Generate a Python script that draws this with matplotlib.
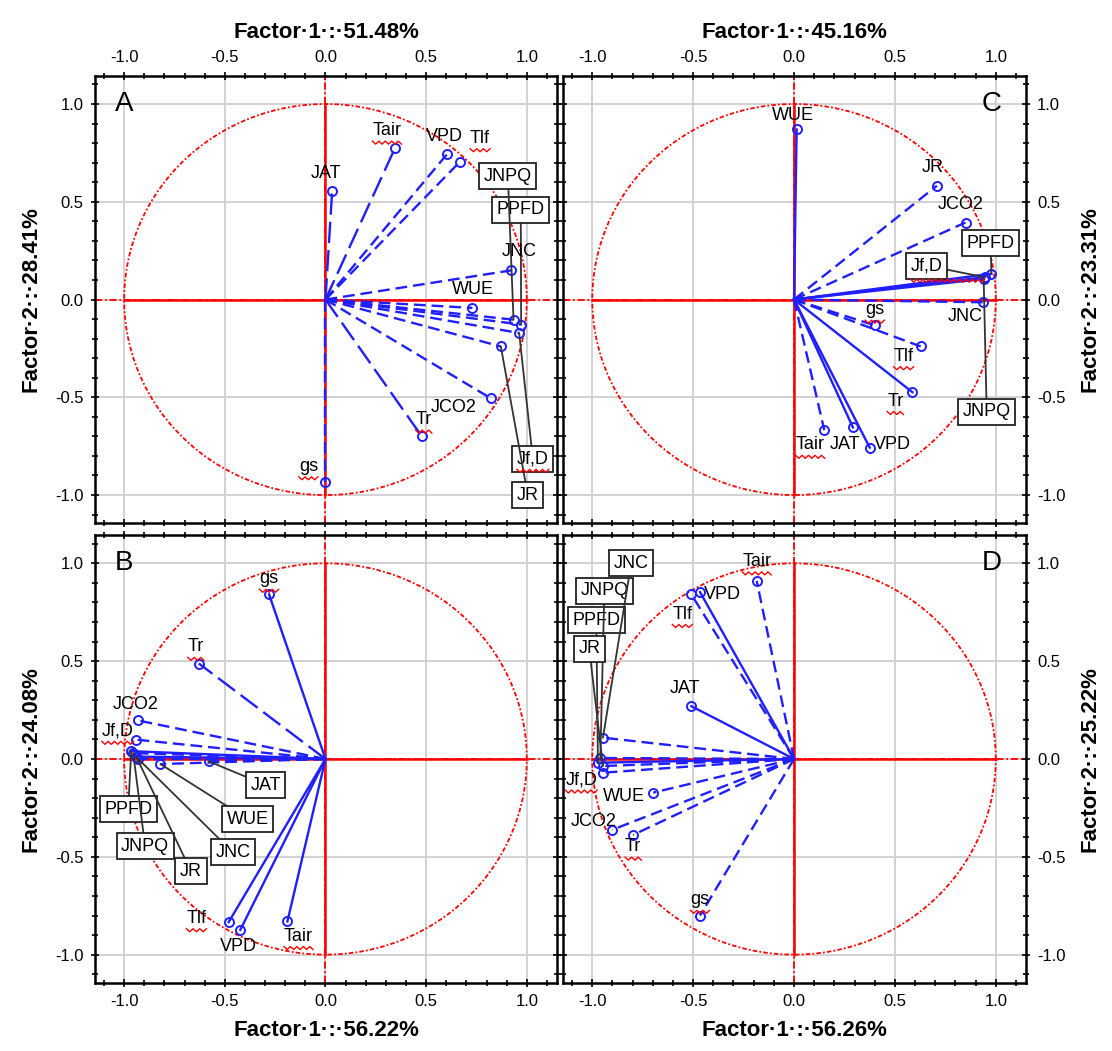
import matplotlib
matplotlib.use('Agg')
import numpy as np
import matplotlib.pyplot as plt
from matplotlib.ticker import MultipleLocator

plt.rcParams['font.family'] = ['Liberation Sans', 'DejaVu Sans']
plt.rcParams['axes.unicode_minus'] = False

# variables (same order in every panel)
variables = ['PPFD', 'Tair', 'Tlf', 'VPD', 'gs', 'Tr', 'JCO2', 'Jf,D', 'JNPQ', 'JNC', 'JR', 'JAT', 'WUE']

# loadings: factor 1 / factor 2
a_f1 = [0.972, 0.345, 0.668, 0.605, 0.000, 0.478, 0.821, 0.962, 0.934, 0.922, 0.871, 0.033, 0.730]
a_f2 = [-0.128, 0.774, 0.705, 0.745, -0.933, -0.699, -0.505, -0.171, -0.103, 0.149, -0.240, 0.553, -0.043]

b_f1 = [-0.965, -0.189, -0.481, -0.423, -0.280, -0.629, -0.931, -0.942, -0.955, -0.930, -0.940, -0.580, -0.820]
b_f2 = [0.040, -0.830, -0.834, -0.873, 0.841, 0.488, 0.197, 0.099, 0.030, 0.000, 0.012, -0.012, -0.026]

c_f1 = [0.978, 0.150, 0.628, 0.375, 0.400, 0.587, 0.850, 0.945, 0.940, 0.935, 0.708, 0.292, 0.013]
c_f2 = [0.132, -0.668, -0.240, -0.757, -0.132, -0.474, 0.394, 0.114, 0.105, -0.014, 0.582, -0.654, 0.870]

d_f1 = [-0.972, -0.185, -0.509, -0.466, -0.466, -0.797, -0.901, -0.945, -0.960, -0.947, -0.947, -0.509, -0.698]
d_f2 = [-0.019, 0.910, 0.841, 0.853, -0.800, -0.388, -0.362, -0.070, 0.005, 0.109, -0.036, 0.270, -0.172]

x_titles = {'A': 'Factor·1·:·51.48%', 'C': 'Factor·1·:·45.16%',
            'B': 'Factor·1·:·56.22%', 'D': 'Factor·1·:·56.26%'}
y_titles = {'A': 'Factor·2·:·28.41%', 'C': 'Factor·2·:·23.31%',
            'B': 'Factor·2·:·24.08%', 'D': 'Factor·2·:·25.22%'}

# words that carry the red spell-check squiggle in the original
squiggled = ['Tair', 'Tlf', 'Tr', 'gs', 'Jf,D']

# line style for each vector: s = solid, d = dashed, l = long dash
styles = {
    'A': 'd l d d d l d d d d d l d'.split(),
    'B': 's s s s s l d d d d s d d'.split(),
    'C': 's d d s d s d s s d d s s'.split(),
    'D': 's d d s d d d d d d d s d'.split(),
}
# label placement: offset from point (plain labels) or box position (boxed labels)
plain = {
    'A': {'Tair': (-0.04, 0.09), 'VPD': (-0.015, 0.09), 'Tlf': (0.10, 0.12), 'JAT': (-0.03, 0.09),
          'JNC': (0.04, 0.095), 'WUE': (0.0, 0.095), 'JCO2': (-0.185, -0.045), 'Tr': (0.01, 0.085),
          'gs': (-0.085, 0.08)},
    'B': {'gs': (0.0, 0.08), 'Tr': (-0.015, 0.085), 'JCO2': (-0.01, 0.08), 'Jf,D': (-0.09, 0.045),
          'Tlf': (-0.16, 0.02), 'VPD': (-0.01, -0.085), 'Tair': (0.055, -0.075)},
    'C': {'WUE': (-0.02, 0.07), 'JR': (-0.02, 0.095), 'JCO2': (-0.025, 0.09), 'JNC': (-0.085, -0.075),
          'gs': (0.0, 0.08), 'Tlf': (-0.085, -0.05), 'Tr': (-0.085, -0.045), 'Tair': (-0.07, -0.075),
          'JAT': (-0.04, -0.09), 'VPD': (0.115, 0.015)},
    'D': {'Tair': (0.0, 0.1), 'VPD': (0.11, -0.01), 'Tlf': (-0.045, -0.10), 'JAT': (-0.03, 0.09),
          'Jf,D': (-0.11, -0.035), 'WUE': (-0.145, -0.02), 'JCO2': (-0.09, 0.045), 'Tr': (0.0, -0.06),
          'gs': (0.0, 0.08)},
}
boxed = {
    'A': {'JNPQ': (0.906, 0.631), 'PPFD': (0.97, 0.46), 'Jf,D': (1.03, -0.815), 'JR': (1.005, -1.0)},
    'B': {'PPFD': (-0.98, -0.256), 'JNPQ': (-0.896, -0.446), 'JR': (-0.668, -0.574),
          'JNC': (-0.46, -0.477), 'WUE': (-0.386, -0.308), 'JAT': (-0.297, -0.133)},
    'C': {'PPFD': (0.975, 0.287), 'Jf,D': (0.657, 0.174), 'JNPQ': (0.955, -0.574)},
    'D': {'JNC': (-0.807, 1.0), 'JNPQ': (-0.94, 0.86), 'PPFD': (-0.98, 0.708), 'JR': (-1.015, 0.564)},
}
dash = {'s': '-', 'd': (0, (5, 2.5)), 'l': (0, (9, 3))}

fig = plt.figure(figsize=(11.12, 10.51), dpi=100)
rects = {'A': [0.0854, 0.502, 0.4155, 0.426], 'C': [0.5063, 0.502, 0.4164, 0.426],
         'B': [0.0854, 0.0647, 0.4155, 0.4263], 'D': [0.5063, 0.0647, 0.4164, 0.4263]}
data = {'A': (a_f1, a_f2), 'B': (b_f1, b_f2), 'C': (c_f1, c_f2), 'D': (d_f1, d_f2)}
blue = '#1f1fff'
to_squiggle = []

for key in ['A', 'C', 'B', 'D']:
    ax = fig.add_axes(rects[key])
    f1, f2 = data[key]
    ax.set_xlim(-1.145, 1.15)
    ax.set_ylim(-1.145, 1.145)
    ax.set_xticks([-1, -0.5, 0, 0.5, 1])
    ax.set_yticks([-1, -0.5, 0, 0.5, 1])
    ax.xaxis.set_minor_locator(MultipleLocator(0.1))
    ax.yaxis.set_minor_locator(MultipleLocator(0.1))
    ax.set_xticklabels(['-1.0', '-0.5', '0.0', '0.5', '1.0'])
    ax.set_yticklabels(['-1.0', '-0.5', '0.0', '0.5', '1.0'])
    top = key in 'AC'
    left = key in 'AB'
    ax.tick_params(which='both', direction='inout', top=True, bottom=True, left=True, right=True,
                   labeltop=top, labelbottom=not top, labelleft=left, labelright=not left,
                   labelsize=12, width=1.2)
    ax.tick_params(which='major', length=6, pad=5)
    ax.tick_params(which='minor', length=4)
    for sp in ax.spines.values():
        sp.set_linewidth(1.8)
    ax.grid(True, which='major', color='#cfcfcf', lw=1.3, zorder=0)

    # unit circle and red axes
    t = np.linspace(0, 2 * np.pi, 400)
    ax.plot(np.cos(t), np.sin(t), color='red', lw=1.3, ls=(0, (2.5, 1.2, 1, 1.2)), zorder=2)
    ax.axhline(0, color='red', lw=1.3, ls=(0, (4, 1.5, 1, 1.5)), zorder=2)
    ax.axvline(0, color='red', lw=1.3, ls=(0, (4, 1.5, 1, 1.5)), zorder=2)
    ax.plot([-1, 1], [0, 0], color='red', lw=1.8, zorder=2)
    ax.plot([0, 0], [-1, 1], color='red', lw=1.8, zorder=2)

    for i, name in enumerate(variables):
        ax.plot([0, f1[i]], [0, f2[i]], color=blue, lw=1.7, ls=dash[styles[key][i]], zorder=3)
        ax.plot(f1[i], f2[i], 'o', ms=6.5, mfc='none', mec=blue, mew=1.4, zorder=4)
        txt = None
        if name in plain[key]:
            dx, dy = plain[key][name]
            txt = ax.text(f1[i] + dx, f2[i] + dy, name, fontsize=13, ha='center', va='center', zorder=5)
        elif name in boxed[key]:
            bx, by = boxed[key][name]
            txt = ax.annotate(name, xy=(f1[i], f2[i]), xytext=(bx, by), fontsize=13,
                              ha='center', va='center', zorder=5,
                              bbox=dict(boxstyle='square,pad=0.25', fc='white', ec='#222222', lw=1.3),
                              arrowprops=dict(arrowstyle='-', color='#333333', lw=1.3,
                                              shrinkA=0, shrinkB=0))
        if txt is not None and name in squiggled:
            to_squiggle.append((ax, txt))

    if left:
        ax.text(-1.0, 1.0, key, fontsize=20, ha='center', va='center')
    else:
        ax.text(0.98, 1.0, key, fontsize=20, ha='center', va='center')

    ax.set_xlabel(x_titles[key], fontsize=16, fontweight='bold', labelpad=8)
    if top:
        ax.xaxis.set_label_position('top')
    ax.set_ylabel(y_titles[key], fontsize=16, fontweight='bold', labelpad=10)
    if not left:
        ax.yaxis.set_label_position('right')
        ax.yaxis.label.set_rotation(90)

# red wavy underline under the flagged words, placed from the rendered text size
fig.canvas.draw()
renderer = fig.canvas.get_renderer()
for ax, txt in to_squiggle:
    bb = txt.get_window_extent(renderer)
    n = max(4, int(bb.width / 3))
    xs = np.linspace(bb.x0, bb.x1, n + 1)
    ys = bb.y0 - 2 + np.where(np.arange(n + 1) % 2 == 0, 0, -3)
    pts = ax.transData.inverted().transform(np.column_stack([xs, ys]))
    ax.plot(pts[:, 0], pts[:, 1], color='red', lw=1.0, zorder=6)

fig.savefig('out.png', dpi=100, facecolor='white')
